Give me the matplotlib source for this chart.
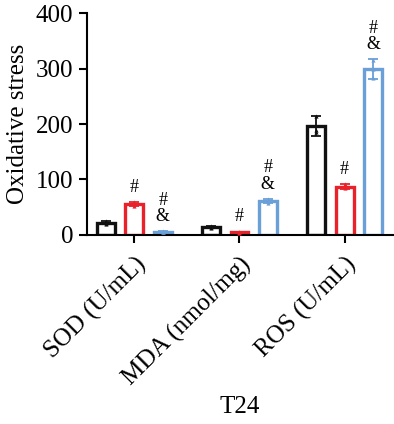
import numpy as np
import matplotlib.pyplot as plt

plt.rcParams['font.family'] = ['Liberation Serif', 'DejaVu Serif']

# Data
categories = ["SOD (U/mL)", "MDA (nmol/mg)", "ROS (U/mL)"]
group_colors = ["#111111", "#e8212b", "#6a9fd8"]
means = [
    [22, 14, 197],   # control
    [56, 5, 87],     # group 2
    [6, 61, 299],    # group 3
]
errs = [
    [3, 2, 18],
    [3, 1, 5],
    [1, 4, 18],
]
points = [
    [[19, 22, 25], [12, 14, 16], [215, 190, 186]],
    [[53, 56, 59], [4, 5, 6], [84, 87, 91]],
    [[5, 6, 7], [58, 61, 64], [315, 300, 283]],
]
marks = [
    ["", "", ""],
    ["#", "#", "#"],
    ["#\n&", "#\n&", "#\n&"],
]

fig = plt.figure(figsize=(3.94, 4.24), dpi=100)
ax = fig.add_axes([0.221, 0.446, 0.779, 0.523])

x = np.arange(len(categories))
offsets = [-0.27, 0.0, 0.27]
width = 0.17

for g in range(3):
    xs = x + offsets[g]
    ax.bar(xs, means[g], width=width, facecolor="white", edgecolor=group_colors[g],
           linewidth=2.4, zorder=2)
    ax.errorbar(xs, means[g], yerr=errs[g], fmt="none", ecolor=group_colors[g],
                elinewidth=1.3, capsize=3.5, capthick=1.3, zorder=3)
    for i in range(3):
        ax.scatter([xs[i]] * len(points[g][i]), points[g][i], s=9, marker="^",
                   color=group_colors[g], zorder=4, linewidths=0)
        if marks[g][i]:
            top = means[g][i] + errs[g][i]
            ax.text(xs[i], top + 11, marks[g][i], ha="center", va="bottom",
                    fontsize=13, linespacing=0.95)

ax.set_xlim(-0.45, 2.47)
ax.set_ylim(0, 400)
ax.set_yticks([0, 100, 200, 300, 400])
ax.set_xticks(x)
ax.set_xticklabels(categories, rotation=45, ha="right", rotation_mode="anchor")
ax.tick_params(axis="both", labelsize=18, width=1.5, length=6, direction="out")
ax.tick_params(axis="x", pad=7)
ax.tick_params(axis="y", pad=4)
for s in ["top", "right"]:
    ax.spines[s].set_visible(False)
for s in ["left", "bottom"]:
    ax.spines[s].set_linewidth(1.5)

ax.set_ylabel("Oxidative stress", fontsize=18, labelpad=5)
fig.text(240 / 394, 1 - 407 / 424, "T24", ha="center", va="center", fontsize=18)

fig.savefig("out.png", dpi=100)
